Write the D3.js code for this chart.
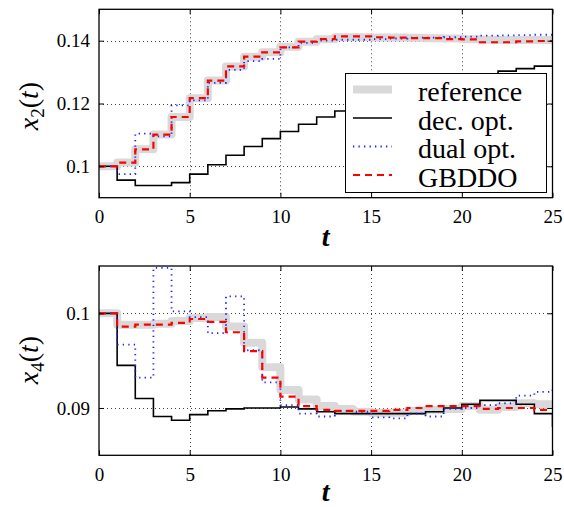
<!DOCTYPE html>
<html><head><meta charset="utf-8">
<script src="https://cdn.jsdelivr.net/npm/d3@7"></script>
<style>body{margin:0;background:#fff;} svg{display:block;}</style>
</head><body><svg id="c" width="564" height="507"></svg>
<script>
// time grid (stairs, value held on [t, t+1))
const tSteps = [0,1,2,3,4,5,6,7,8,9,10,11,12,13,14,15,16,17,18,19,20,21,22,23,24,25];

// x2(t)
const x2Reference = [0.1,0.1012,0.1054,0.1101,0.1157,0.1217,0.1273,0.1318,0.1349,0.1363,0.1381,0.1397,0.1405,0.1411,0.1411,0.1410,0.1410,0.1409,0.1408,0.1407,0.1405,0.1403,0.1402,0.1402,0.1402,0.1402];
const x2DecOpt    = [0.1,0.0956,0.0939,0.0939,0.0948,0.0975,0.1005,0.1035,0.1063,0.1088,0.1111,0.1134,0.1157,0.1176,0.1195,0.1212,0.1228,0.1243,0.1257,0.1270,0.1282,0.1293,0.1303,0.1311,0.1319,0.1319];
const x2DualOpt   = [0.1,0.0975,0.1104,0.1095,0.1194,0.1210,0.1266,0.1307,0.1335,0.1342,0.1379,0.1393,0.1400,0.1403,0.1403,0.1405,0.1407,0.1410,0.1410,0.1411,0.1413,0.1416,0.1417,0.1418,0.1419,0.1419];
const x2GBDDO     = [0.1,0.1012,0.1054,0.1101,0.1157,0.1217,0.1273,0.1318,0.1349,0.1363,0.1379,0.1397,0.1405,0.1414,0.1414,0.1411,0.1410,0.1408,0.1408,0.1405,0.1404,0.1395,0.1395,0.1398,0.1399,0.1399];

// x4(t)
const x4Reference = [0.1,0.0988,0.0988,0.0989,0.0992,0.0995,0.0996,0.0986,0.0969,0.0943,0.0919,0.0909,0.0902,0.0899,0.0896,0.0895,0.0895,0.0897,0.0898,0.0899,0.0902,0.0898,0.0901,0.0905,0.0904,0.0904];
const x4DecOpt    = [0.1,0.0945,0.0910,0.0891,0.0887,0.0893,0.0897,0.0899,0.0900,0.0900,0.0901,0.0899,0.0896,0.0894,0.0894,0.0894,0.0894,0.0894,0.0896,0.0900,0.0904,0.0908,0.0908,0.0904,0.0894,0.0880];
const x4DualOpt   = [0.1,0.0967,0.0932,0.1048,0.1002,0.0996,0.0979,0.1018,0.0961,0.0927,0.0903,0.0894,0.0891,0.0897,0.0896,0.0890,0.0889,0.0894,0.0891,0.0899,0.0900,0.0903,0.0905,0.0913,0.0917,0.0921];
const x4GBDDO     = [0.1,0.0986,0.0988,0.0988,0.0990,0.0994,0.0991,0.0980,0.0960,0.0932,0.0912,0.0902,0.0898,0.0897,0.0897,0.0897,0.0898,0.0900,0.0902,0.0902,0.0902,0.0899,0.0900,0.0900,0.0898,0.0898];

const xTicks = [0,5,10,15,20,25];
const x2Ticks = [0.1,0.12,0.14];
const x2TickLabels = ["0.1","0.12","0.14"];
const x4Ticks = [0.09,0.1];
const x4TickLabels = ["0.09","0.1"];
const legendLabels = ["reference","dec. opt.","dual opt.","GBDDO"];

const styles = [
  {stroke:"#d9d9d9", width:8, dash:null, join:"round"},
  {stroke:"#000000", width:1.6, dash:null, join:"miter"},
  {stroke:"#1f1fff", width:1.8, dash:"1.3,4.2", join:"miter"},
  {stroke:"#ff0000", width:2.2, dash:"7,5", join:"miter"}
];

const svg = d3.select("#c");
const serif = 'Liberation Serif, DejaVu Serif, Tinos, Times, serif';

function panel(id, top, bottom, yDomain, yTicks, yTickLabels, series, ylabelSub, ylabelY, tLabelBase) {
  const left = 99, right = 552.5;
  const x = d3.scaleLinear().domain([0,25]).range([left,right]);
  const y = d3.scaleLinear().domain(yDomain).range([bottom,top]);
  const g = svg.append("g");

  g.append("clipPath").attr("id","clip"+id).append("rect")
    .attr("x",left).attr("y",top).attr("width",right-left).attr("height",bottom-top);

  // grid
  const grid = g.append("g").attr("stroke","#444").attr("stroke-width",1).attr("stroke-dasharray","1,3");
  xTicks.filter(v=>v>0 && v<25).forEach(v=>{
    grid.append("line").attr("x1",Math.round(x(v))+0.5).attr("x2",Math.round(x(v))+0.5).attr("y1",top).attr("y2",bottom);
  });
  yTicks.forEach(v=>{
    grid.append("line").attr("y1",Math.round(y(v))+0.5).attr("y2",Math.round(y(v))+0.5).attr("x1",left).attr("x2",right);
  });

  // series
  const lines = g.append("g").attr("clip-path","url(#clip"+id+")");
  series.forEach((vals,i)=>{
    const st = styles[i];
    const line = d3.line().x((d,k)=>x(tSteps[k])).y(d=>y(d)).curve(d3.curveStepAfter);
    lines.append("path").datum(vals).attr("d",line)
      .attr("fill","none").attr("stroke",st.stroke).attr("stroke-width",st.width)
      .attr("stroke-linejoin",st.join)
      .attr("stroke-dasharray",st.dash);
  });

  // axes box
  g.append("rect").attr("x",left).attr("y",top).attr("width",right-left).attr("height",bottom-top)
    .attr("fill","none").attr("stroke","#000").attr("stroke-width",1.3);

  // axes with inward ticks
  const xb = d3.axisBottom(x).tickValues(xTicks).tickSize(-5).tickPadding(12);
  const xt = d3.axisTop(x).tickValues(xTicks).tickSize(-5).tickFormat("");
  const yl = d3.axisLeft(y).tickValues(yTicks).tickSize(-5).tickPadding(9).tickFormat((d,i)=>yTickLabels[i]);
  const yr = d3.axisRight(y).tickValues(yTicks).tickSize(-5).tickFormat("");
  const ax1 = g.append("g").attr("transform",`translate(0,${bottom})`).call(xb);
  g.append("g").attr("transform",`translate(0,${top})`).call(xt);
  const ax3 = g.append("g").attr("transform",`translate(${left},0)`).call(yl);
  g.append("g").attr("transform",`translate(${right},0)`).call(yr);
  g.selectAll(".domain").remove();
  g.selectAll(".tick line").attr("stroke","#000").attr("stroke-width",1);
  [ax1,ax3].forEach(a=>{
    a.attr("font-family",serif).attr("font-size",19);
    a.selectAll("text").attr("fill","#000");
  });

  // x label
  g.append("text").attr("x",(left+right)/2).attr("y",tLabelBase).attr("text-anchor","middle")
    .attr("font-family",serif).attr("font-size",28).attr("font-style","italic").attr("font-weight","bold").text("t");

  // y label
  const yt = g.append("text").attr("transform",`translate(38,${ylabelY}) rotate(-90)`)
    .attr("text-anchor","middle").attr("font-family",serif).attr("font-size",28);
  yt.append("tspan").attr("font-style","italic").text("x");
  yt.append("tspan").attr("font-size",19).attr("dy",6).text(ylabelSub);
  yt.append("tspan").attr("dy",-6).text("(");
  yt.append("tspan").attr("font-style","italic").text("t");
  yt.append("tspan").text(")");
  return {x,y,g};
}

panel(1, 9.3, 197.7, [0.09,0.15], x2Ticks, x2TickLabels,
  [x2Reference,x2DecOpt,x2DualOpt,x2GBDDO], "2", 106, 246);
panel(2, 266, 455.3, [0.085,0.105], x4Ticks, x4TickLabels,
  [x4Reference,x4DecOpt,x4DualOpt,x4GBDDO], "4", 360, 501);

// legend
const lg = svg.append("g");
lg.append("rect").attr("x",345.5).attr("y",73.5).attr("width",201).attr("height",119)
  .attr("fill","#fff").attr("stroke","#000").attr("stroke-width",1);
legendLabels.forEach((lab,i)=>{
  const yy = 89.5 + i*28.5;
  const st = styles[i];
  lg.append("line").attr("x1",353).attr("x2",392).attr("y1",yy).attr("y2",yy)
    .attr("stroke",st.stroke).attr("stroke-width",st.width).attr("stroke-dasharray",st.dash);
  lg.append("text").attr("x",418).attr("y",yy+11.5).attr("font-family",serif).attr("font-size",28)
    .attr("fill","#000").text(lab);
});
</script></body></html>
